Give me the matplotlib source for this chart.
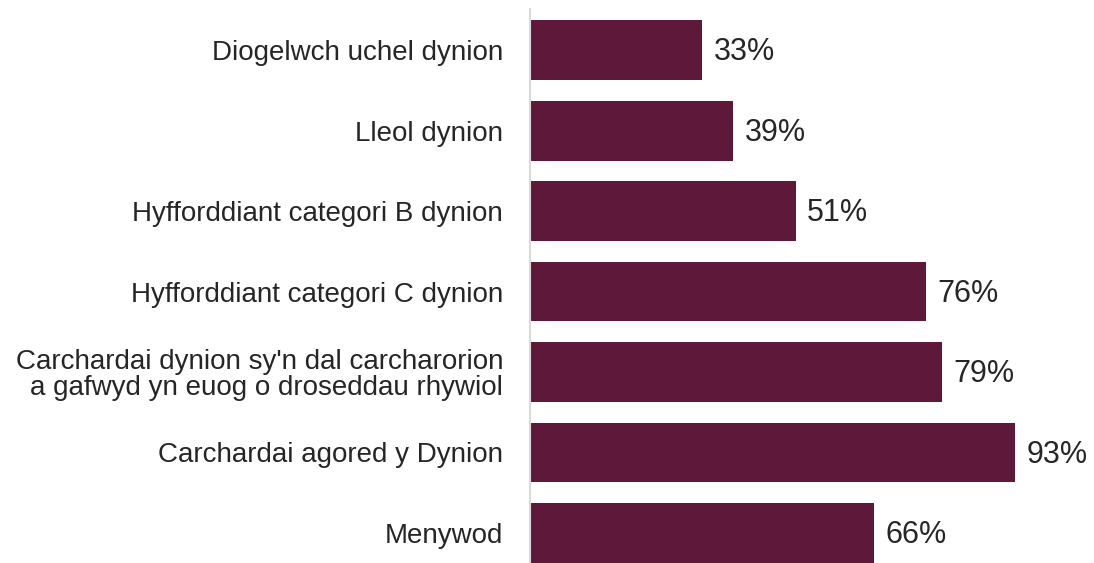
import matplotlib
matplotlib.use("Agg")
import matplotlib.pyplot as plt

categories = [
    "Diogelwch uchel dynion",
    "Lleol dynion",
    "Hyfforddiant categori B dynion",
    "Hyfforddiant categori C dynion",
    "Carchardai dynion sy'n dal carcharorion\na gafwyd yn euog o droseddau rhywiol",
    "Carchardai agored y Dynion",
    "Menywod",
]
values = [33, 39, 51, 76, 79, 93, 66]

plt.rcParams['font.family'] = ['Liberation Sans', 'DejaVu Sans']

fig = plt.figure(figsize=(10.94, 5.63), dpi=100)
ax = fig.add_axes([530 / 1094, 0, 1 - 530 / 1094, (563 - 9) / 563])

pos = list(range(len(values)))
ax.barh(pos, values, height=0.745, color="#5E1839")
for p, v in zip(pos, values):
    ax.text(v + 2.2, p + 0.03, f"{v}%", va="center", ha="left", fontsize=22, color="#262626")

ax.set_yticks(pos)
ax.set_yticklabels(categories, fontsize=20, color="#262626", linespacing=1.0)
ax.tick_params(axis="y", length=0, pad=19.4)
ax.set_xticks([])
ax.set_xlim(0, 108.2)
ax.set_ylim(6.373, -0.51)
for s in ["top", "right", "bottom"]:
    ax.spines[s].set_visible(False)
ax.spines["left"].set_color("#D9D9D9")
ax.spines["left"].set_linewidth(1.5)

fig.savefig("out.png", dpi=100)
